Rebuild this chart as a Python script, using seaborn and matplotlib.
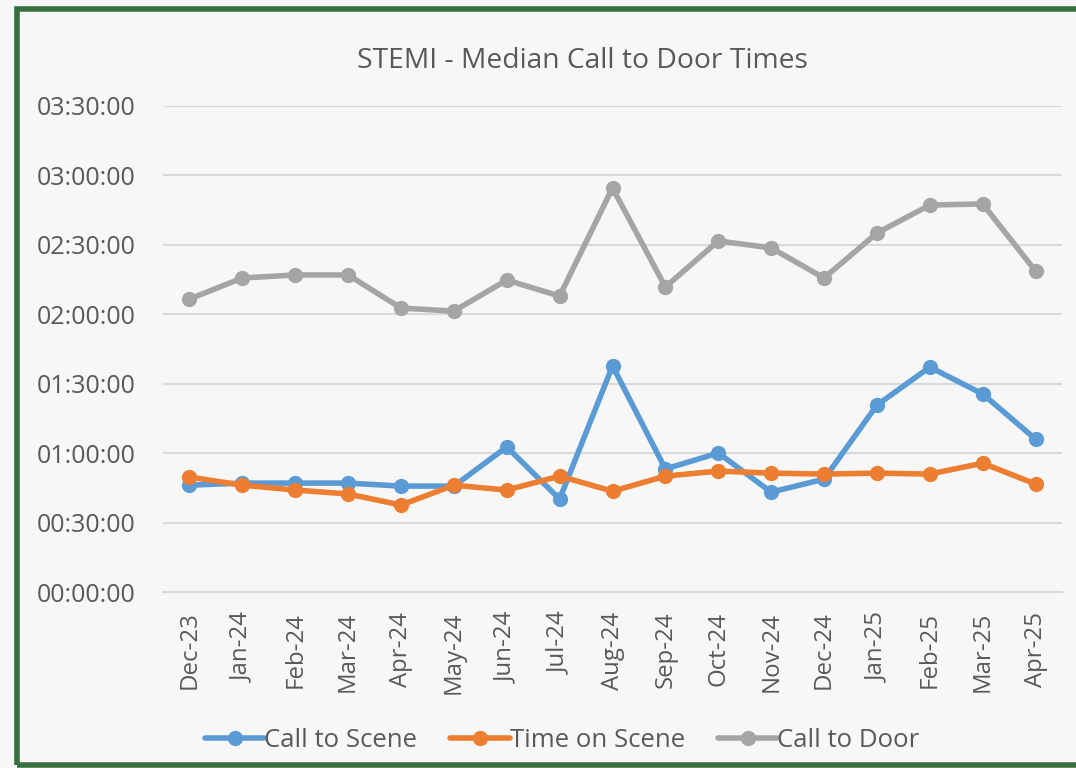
import numpy as np
import pandas as pd
import matplotlib
matplotlib.use("Agg")
import matplotlib.pyplot as plt
from matplotlib.patches import Rectangle
import seaborn as sns

# Months on the x axis
months = ["Dec-23", "Jan-24", "Feb-24", "Mar-24", "Apr-24", "May-24", "Jun-24",
          "Jul-24", "Aug-24", "Sep-24", "Oct-24", "Nov-24", "Dec-24", "Jan-25",
          "Feb-25", "Mar-25", "Apr-25"]

# Median times in minutes
call_to_scene = [46.2, 47.1, 47.1, 47.1, 45.8, 45.8, 62.7, 40.2, 97.7, 53.2,
                 60.1, 43.2, 48.8, 80.8, 97.2, 85.6, 66.1]
time_on_scene = [49.7, 46.2, 44.1, 42.4, 37.6, 46.2, 44.1, 50.1, 43.6, 50.1,
                 52.3, 51.4, 51.0, 51.4, 51.0, 55.7, 46.7]
call_to_door = [126.6, 135.7, 137.0, 137.0, 122.7, 121.4, 134.8, 127.9, 174.6,
                131.8, 151.7, 148.7, 135.7, 155.1, 167.2, 167.7, 138.7]

series_names = ["Call to Scene", "Time on Scene", "Call to Door"]
colors = ["#5B9BD5", "#ED7D31", "#A5A5A5"]

df = pd.concat([
    pd.DataFrame({"idx": range(len(months)), "minutes": vals, "series": name})
    for name, vals in zip(series_names, [call_to_scene, time_on_scene, call_to_door])
])

sns.set_style("white", {"axes.facecolor": "#f7f7f7", "figure.facecolor": "#f7f7f7"})
plt.rcParams["font.family"] = ["Open Sans", "DejaVu Sans"]
text_col = "#595959"
grid_col = "#d9d9d9"

fig = plt.figure(figsize=(10.76, 7.68), dpi=100)
ax = fig.add_axes([0.1515, 0.229, 0.8355, 0.633])

sns.lineplot(data=df, x="idx", y="minutes", hue="series", hue_order=series_names,
             palette=colors, marker="o", markersize=11, markeredgewidth=0,
             linewidth=4, errorbar=None, ax=ax)

# y axis: 0 to 3.5 hours, labels as hh:mm:ss
yticks = np.arange(0, 211, 30)
ax.set_ylim(0, 210)
ax.set_yticks(yticks)
ax.set_yticklabels(["%02d:%02d:00" % (t // 60, t % 60) for t in yticks])
ax.yaxis.grid(True, color=grid_col, linewidth=1.5)
ax.set_axisbelow(True)

# x axis: category labels, ticks between categories
ax.set_xlim(-0.5, len(months) - 0.5)
ax.set_xticks(range(len(months)))
ax.set_xticklabels(months, rotation=90)
ax.set_xticks(np.arange(-0.5, len(months), 1), minor=True)
ax.tick_params(axis="x", which="major", length=0, pad=14, labelsize=17.3, labelcolor=text_col)
ax.tick_params(axis="x", which="minor", length=7, width=1.5, color=grid_col)
ax.tick_params(axis="y", length=0, pad=20, labelsize=18, labelcolor=text_col)
ax.set_xlabel("")
ax.set_ylabel("")

for s in ["top", "right", "left"]:
    ax.spines[s].set_visible(False)
ax.spines["bottom"].set_color(grid_col)
ax.spines["bottom"].set_linewidth(1.5)

handles, labels = ax.get_legend_handles_labels()
ax.legend(handles, labels, loc="center", bbox_to_anchor=(0.5225, 0.036),
          bbox_transform=fig.transFigure, ncol=3, frameon=False,
          fontsize=18.5, labelcolor=text_col, handlelength=2.3,
          handletextpad=0.0, columnspacing=1.3)

fig.text(0.541, 0.921, "STEMI - Median Call to Door Times", ha="center", va="center",
         fontsize=20.3, color=text_col)

# green chart border
fig.patches.append(Rectangle((17 / 1076, 3 / 768), 1.1, 756 / 768, transform=fig.transFigure,
                             fill=False, edgecolor="#3a7040", linewidth=4, clip_on=False))

fig.savefig("out.png", dpi=100, facecolor=fig.get_facecolor())
